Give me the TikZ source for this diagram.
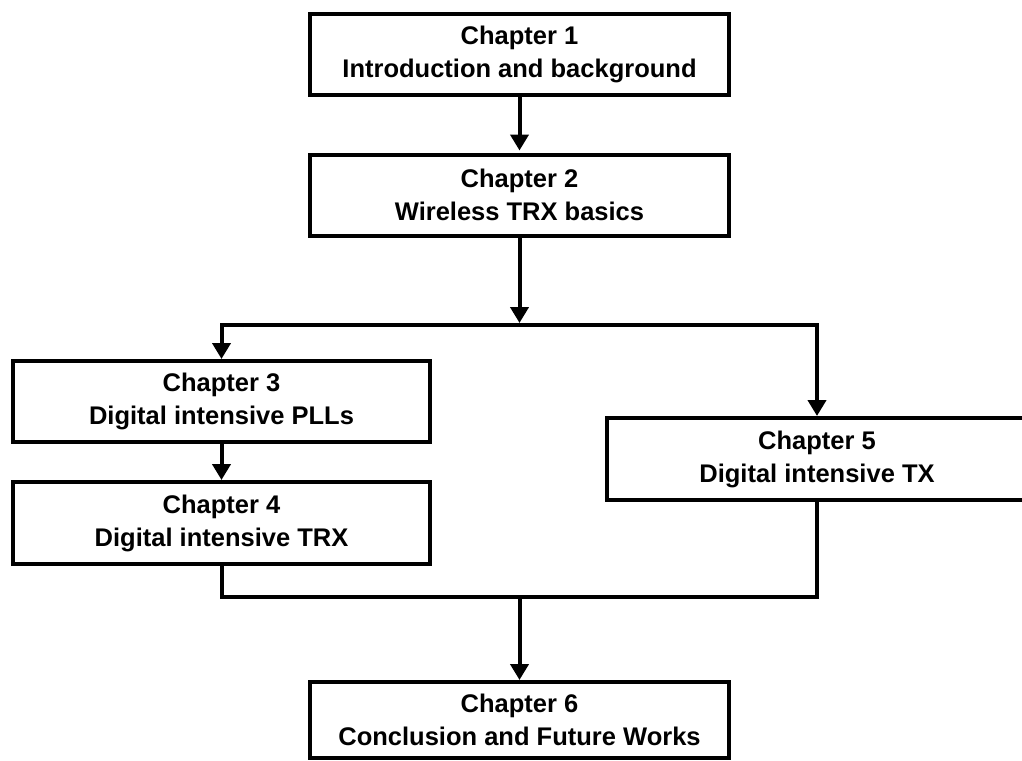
\documentclass[tikz,border=0pt]{standalone}
\usepackage{fontspec}
\setmainfont{Liberation Sans}
\usetikzlibrary{arrows.meta}
\begin{document}
\begin{tikzpicture}[x=1pt,y=-1pt,
  chap/.style={draw=black, line width=4pt, rectangle, inner sep=0pt, align=center,
    font=\bfseries\fontsize{25.5}{33}\selectfont, text=black},
  conn/.style={line width=4pt, line join=miter},
  arr/.style={conn, -{Triangle[width=18pt,length=16pt]}}]
\useasboundingbox (0,0) rectangle (1022,760);
\node[chap, minimum width=419pt, minimum height=81pt] (c1) at (519.5,54.5) {Chapter 1\\Introduction and background};
\node[chap, minimum width=419pt, minimum height=81pt] (c2) at (519.5,195) {Chapter 2\\Wireless TRX basics};
\node[chap, minimum width=417pt, minimum height=81pt] (c3) at (221.5,401.5) {Chapter 3\\Digital intensive PLLs};
\node[chap, minimum width=417pt, minimum height=82pt] (c4) at (221.5,523) {Chapter 4\\Digital intensive TRX};
\node[chap, minimum width=420pt, minimum height=82pt] (c5) at (817,459) {Chapter 5\\Digital intensive TX};
\node[chap, minimum width=419pt, minimum height=76pt] (c6) at (519.5,720) {Chapter 6\\Conclusion and Future Works};
\coordinate (j1) at (519.5,325);
\coordinate (j2) at (519.5,597);
\draw[arr, shorten >=2pt] (c1) -- (c2);
\draw[arr, shorten >=2pt] (c2) -- (j1);
\draw[arr] (j1) -| (c3.north);
\draw[arr] (j1) -| (c5.north);
\draw[arr] (c3) -- (c4);
\draw[conn] (c4.south) |- (j2);
\draw[conn] (c5.south) |- (j2);
\draw[arr] (j2) -- (c6.north);
\end{tikzpicture}
\end{document}
